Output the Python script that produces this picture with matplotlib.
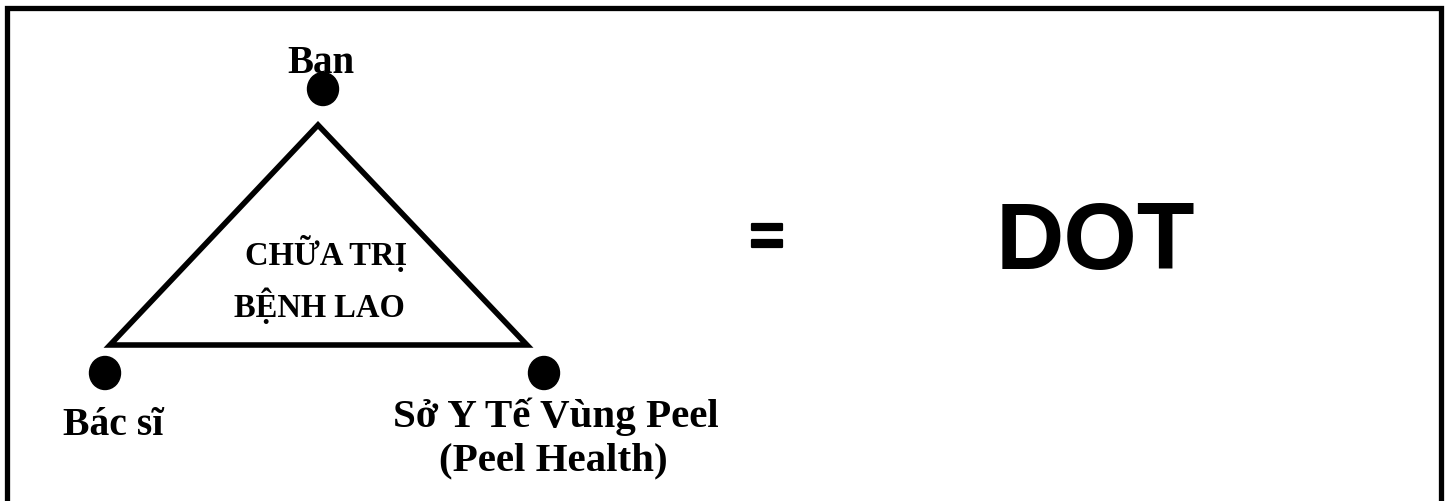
import matplotlib
matplotlib.use("Agg")
import matplotlib.pyplot as plt
from matplotlib.patches import Polygon, Ellipse
import matplotlib.patheffects as pe

# ---- content ----
node_labels = ["Ban", "Bác sĩ", "Sở Y Tế Vùng Peel\n(Peel Health)"]
center_lines = ["CHỮA TRỊ", "BỆNH LAO"]
equals_text = "="
result_text = "DOT"

# ---- layout (pixel space, y downward) ----
W, H = 1447, 501
tri_x = [318, 110, 527]
tri_y = [125, 345, 345]
dot_x = [323, 105, 544]
dot_y = [89, 373, 373]
serif = ["Liberation Serif", "DejaVu Serif"]
sans = ["Liberation Sans", "DejaVu Sans"]

fig = plt.figure(figsize=(W / 100, H / 100), dpi=100)
ax = fig.add_axes([0, 0, 1, 1])
ax.set_xlim(0, W)
ax.set_ylim(H, 0)
ax.axis("off")

# frame: top, left, right
ax.plot([6.5, 6.5, 1440.5, 1440.5], [H + 5, 7.5, 7.5, H + 5], color="black",
        lw=3.8, solid_joinstyle="miter", solid_capstyle="butt")

# triangle
ax.add_patch(Polygon(list(zip(tri_x, tri_y)), closed=True, fill=False,
                     edgecolor="black", lw=4.0, joinstyle="miter"))

# dots
for x, y in zip(dot_x, dot_y):
    ax.add_patch(Ellipse((x, y), 31, 33, color="black"))

# node labels
ax.text(321, 73, node_labels[0], ha="center", va="baseline", fontsize=28,
        fontweight="bold", family=serif)
ax.text(113, 435, node_labels[1], ha="center", va="baseline", fontsize=28.5,
        fontweight="bold", family=serif)
lines = node_labels[2].split("\n")
ax.text(556, 427, lines[0], ha="center", va="baseline", fontsize=29.5,
        fontweight="bold", family=serif)
ax.text(553, 470, lines[1], ha="center", va="baseline", fontsize=29.5,
        fontweight="bold", family=serif)

# centre text
ax.text(326, 265, center_lines[0], ha="center", va="baseline", fontsize=23.5,
        fontweight="bold", family=serif)
ax.text(319, 317, center_lines[1], ha="center", va="baseline", fontsize=23.5,
        fontweight="bold", family=serif)

# equals and DOT
ax.text(767, 240, equals_text, ha="center", va="center", fontsize=44,
        fontweight="bold", family=sans,
        path_effects=[pe.Stroke(linewidth=1.6, foreground="black"), pe.Normal()])
ax.text(1095, 269, result_text, ha="center", va="baseline", fontsize=68,
        fontweight="bold", family=sans)

fig.savefig("out.png", dpi=100, facecolor="white")
